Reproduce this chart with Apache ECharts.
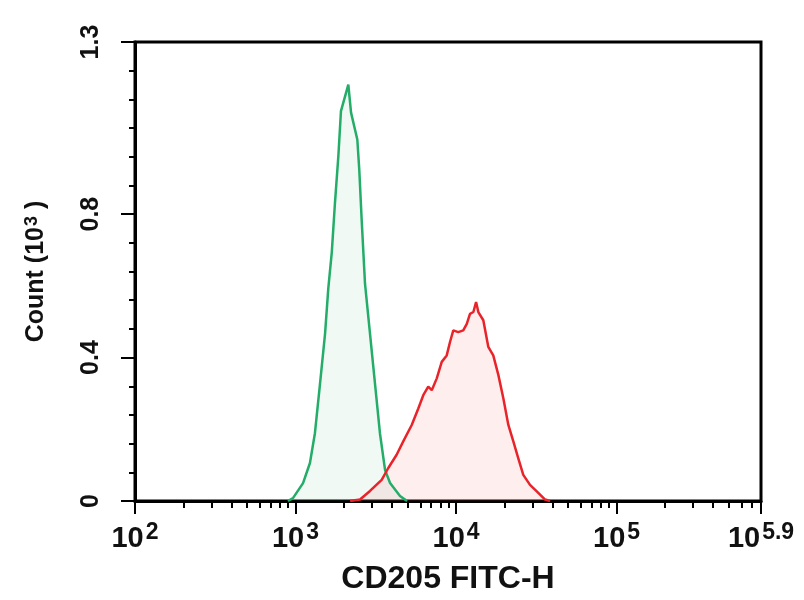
<!DOCTYPE html>
<html>
<head>
<meta charset="utf-8">
<script src="https://cdn.jsdelivr.net/npm/echarts@6/dist/echarts.min.js"></script>
<style>
  html, body { margin: 0; padding: 0; background: #fff; }
  #chart { width: 804px; height: 600px; }
</style>
</head>
<body>
<div id="chart"></div>
<script>
// ---- Data ----
// Isotype / control histogram (green): FITC intensity and count (x10^3)
const greenX = [897, 964, 1114, 1230, 1321, 1422, 1528, 1600, 1683, 1762, 1849, 1919, 2133, 2218, 2427, 2495, 2582, 2710, 2911, 3126, 3357, 3614, 3882, 4477, 4955];
const greenY = [0, 0.008, 0.05, 0.106, 0.189, 0.328, 0.467, 0.592, 0.694, 0.833, 0.962, 1.087, 1.161, 1.083, 1.008, 0.925, 0.786, 0.606, 0.467, 0.328, 0.189, 0.086, 0.05, 0.014, 0];
// CD205 stained histogram (red)
const redX = [2188, 2523, 2911, 3443, 3784, 4266, 4699, 5297, 5821, 6252, 6714, 7063, 7586, 8147, 8750, 9183, 9616, 10328, 11092, 11668, 12218, 12823, 13335, 13772, 14791, 15885, 17061, 18365, 19724, 21184, 22751, 24434, 26242, 28907, 31842, 35892, 38548];
const redY = [0, 0.004, 0.028, 0.059, 0.092, 0.129, 0.167, 0.212, 0.258, 0.295, 0.319, 0.309, 0.342, 0.388, 0.406, 0.444, 0.476, 0.471, 0.476, 0.494, 0.522, 0.527, 0.555, 0.527, 0.504, 0.43, 0.406, 0.351, 0.286, 0.212, 0.166, 0.119, 0.073, 0.045, 0.027, 0.004, 0];

// Axis ticks / labels
const xTickExps = [2, 3, 4, 5, 5.9];
const xTickLabels = ['2', '3', '4', '5', '5.9'];
const yTickValues = [0, 0.4, 0.8, 1.28];
const yTickLabels = ['0', '0.4', '0.8', '1.3'];
const yMax = 1.28;
const yMinorStep = 0.08;

const xMin = Math.pow(10, xTickExps[0]);
const xMax = Math.pow(10, xTickExps[xTickExps.length - 1]);
// keep the last tick a hair inside the extent so float rounding does not drop it
const xMajor = xTickExps.map((e, i) => Math.pow(10, e) * (i === xTickExps.length - 1 ? 0.99995 : 1));
const xMinor = [];
for (let d = 2; d <= 5; d++) {
  for (let m = 2; m <= 9; m++) {
    const v = m * Math.pow(10, d);
    if (v < xMax) xMinor.push(v);
  }
}

const pair = (xs, ys) => xs.map((x, i) => [x, ys[i]]);

const chart = echarts.init(document.getElementById('chart'), null, { renderer: 'canvas' });
const FONT = '"Liberation Sans", Arial, sans-serif';

chart.setOption({
  animation: false,
  backgroundColor: '#ffffff',
  grid: {
    left: 135, right: 43, top: 42, bottom: 97,
    show: true, borderColor: '#000', borderWidth: 3, backgroundColor: 'transparent'
  },
  xAxis: [
    {
      type: 'log', logBase: 10, min: xMin, max: xMax, position: 'bottom',
      axisLine: { show: true, lineStyle: { color: '#000', width: 3 } },
      axisTick: { show: true, customValues: xMajor, length: 13, lineStyle: { color: '#000', width: 2 } },
      axisLabel: {
        customValues: xMajor, margin: 20, showMaxLabel: true, showMinLabel: true, hideOverlap: false,
        formatter: function (v) {
          const e = Math.round(Math.log10(v) * 10) / 10;
          const idx = xTickExps.indexOf(e);
          return '{b|10}{s|' + (idx >= 0 ? xTickLabels[idx] : e) + '}';
        },
        rich: {
          b: { fontFamily: FONT, fontWeight: 'bold', fontSize: 29, color: '#111', verticalAlign: 'bottom', lineHeight: 30 },
          s: { fontFamily: FONT, fontWeight: 'bold', fontSize: 23, color: '#111', verticalAlign: 'top', padding: [0, 0, 9, 2] }
        }
      },
      splitLine: { show: false },
      name: 'CD205 FITC-H', nameLocation: 'middle', nameGap: 62,
      nameTextStyle: { fontFamily: FONT, fontWeight: 'bold', fontSize: 32, color: '#111' }
    },
    {
      type: 'log', logBase: 10, min: xMin, max: xMax, position: 'bottom',
      axisLine: { show: false },
      axisTick: { show: true, customValues: xMinor, length: 7, lineStyle: { color: '#000', width: 2 } },
      axisLabel: { show: false },
      splitLine: { show: false }
    }
  ],
  yAxis: [
    {
      type: 'value', min: 0, max: yMax, position: 'left',
      axisLine: { show: true, lineStyle: { color: '#000', width: 3 } },
      axisTick: { show: true, customValues: yTickValues, length: 14, lineStyle: { color: '#000', width: 2 } },
      axisLabel: {
        customValues: yTickValues, rotate: 90, margin: 31, showMaxLabel: true, hideOverlap: false,
        fontFamily: FONT, fontWeight: 'bold', fontSize: 25, color: '#111',
        formatter: function (v) {
          let best = 0;
          yTickValues.forEach((t, i) => { if (Math.abs(t - v) < Math.abs(yTickValues[best] - v)) best = i; });
          return yTickLabels[best];
        }
      },
      splitLine: { show: false },
      name: 'Count (10{s|3} )', nameLocation: 'middle', nameGap: 86, nameRotate: 90,
      nameTextStyle: {
        fontFamily: FONT, fontWeight: 'bold', fontSize: 25, color: '#111',
        rich: { s: { fontFamily: FONT, fontWeight: 'bold', fontSize: 18, color: '#111', verticalAlign: 'top', padding: [0, 0, 8, 1] } }
      }
    },
    {
      type: 'value', min: 0, max: yMax, interval: yMinorStep, position: 'left',
      axisLine: { show: false },
      axisTick: { show: true, length: 6, lineStyle: { color: '#000', width: 2 } },
      axisLabel: { show: false },
      splitLine: { show: false }
    }
  ],
  series: [
    {
      name: 'Control', type: 'line', xAxisIndex: 0, yAxisIndex: 0,
      data: pair(greenX, greenY), showSymbol: false, smooth: false,
      lineStyle: { color: '#23ad68', width: 2.5 },
      areaStyle: { color: 'rgba(60,175,110,0.10)', origin: 'start' },
      z: 3
    },
    {
      name: 'CD205', type: 'line', xAxisIndex: 0, yAxisIndex: 0,
      data: pair(redX, redY), showSymbol: false, smooth: false,
      lineStyle: { color: '#e8242a', width: 2.5 },
      areaStyle: { color: 'rgba(240,80,80,0.14)', origin: 'start' },
      z: 3
    }
  ]
});
</script>
</body>
</html>
